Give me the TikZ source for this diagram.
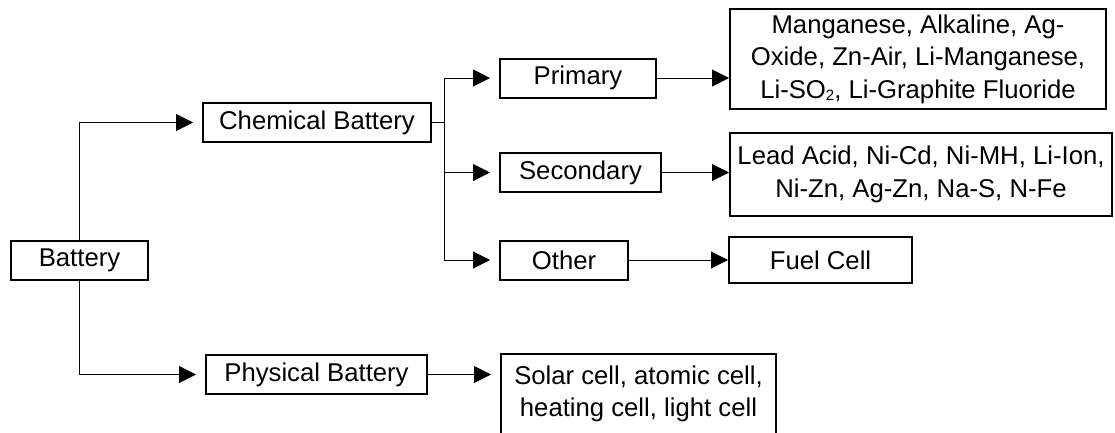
\documentclass[tikz,border=0pt]{standalone}
\usepackage{fontspec}
\setmainfont{Liberation Sans}
\usetikzlibrary{arrows.meta}
\begin{document}
\begin{tikzpicture}[
  x=1pt, y=-1pt,
  box/.style={draw, line width=2pt, minimum height=39pt, inner sep=0pt,
              font=\fontsize{25.7}{32.5}\selectfont, align=center},
  arr/.style={draw, line width=1pt, -{Triangle[length=17pt, width=17pt]}},
  gap/.style={shorten >=9pt},
]
\clip (0,0) rectangle (1115,432);
% --- Root ---
\node[box, minimum width=137pt] (bat) at (79.5,260.5) {Battery};
% --- Battery types ---
\node[box, minimum width=228pt] (chem) at (317,122.5) {Chemical Battery};
\node[box, minimum width=221pt] (phys) at (316.5,374.5) {Physical Battery};
\draw[arr, gap] (bat.north) |- (chem.west);
\draw[arr, gap] (bat.south) |- (phys.west);
% --- Chemical sub-types ---
\node[box, minimum width=156pt] (prim) at (578,78) {Primary};
\node[box, minimum width=161pt] (sec) at (580.5,172.5) {Secondary};
\node[box, minimum width=128pt] (oth) at (564,260) {Other};
\draw[line width=1pt] (chem.east) -- ++(12,0) coordinate (fork);
\draw[line width=1pt] (fork |- prim) -- (fork |- oth);
\draw[arr, gap] (fork |- prim) -- (prim.west);
\draw[arr, gap] (fork |- sec) -- (sec.west);
\draw[arr, gap] (fork |- oth) -- (oth.west);
% --- Examples ---
\node[box, minimum width=376pt, minimum height=100pt] (pout) at (918,59)
  {Manganese, Alkaline, Ag-\\Oxide, Zn-Air, Li-Manganese,\\Li-SO\raisebox{-2pt}{\fontsize{15}{15}\selectfont 2}, Li-Graphite Fluoride};
\node[box, minimum width=382pt, minimum height=83pt] (sout) at (921,174.5)
  {Lead Acid, Ni-Cd, Ni-MH, Li-Ion,\\Ni-Zn, Ag-Zn, Na-S, N-Fe};
\node[box, minimum width=183pt, minimum height=46pt] (fuel) at (820.5,260) {Fuel Cell};
\node[box, minimum width=275pt, minimum height=80pt] (solar) at (638.5,394)
  {Solar cell, atomic cell,\\heating cell, light cell};
\draw[arr] (prim.east) -- (prim.east -| pout.west);
\draw[arr] (sec.east) -- (sec.east -| sout.west);
\draw[arr] (oth.east) -- (oth.east -| fuel.west);
\draw[arr, gap] (phys.east) -- (phys.east -| solar.west);
\end{tikzpicture}
\end{document}
